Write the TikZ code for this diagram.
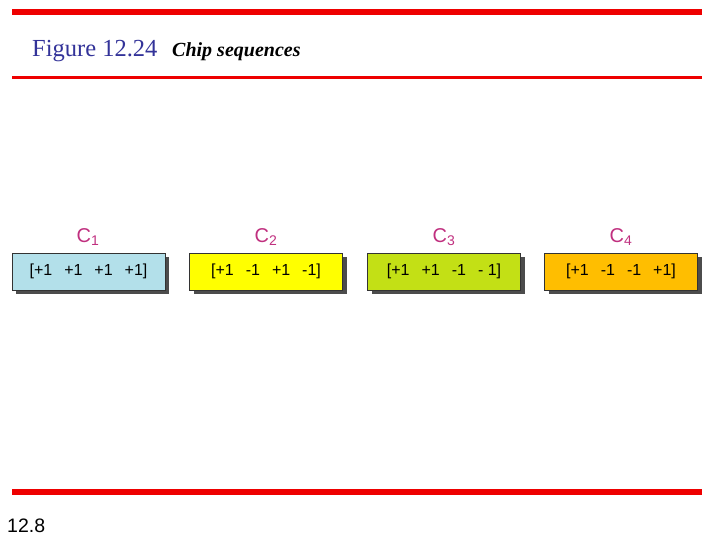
\documentclass[tikz,border=0pt]{standalone}
\usepackage{fontspec}
\setmainfont{Liberation Serif}
\setsansfont{Liberation Sans}
\usetikzlibrary{shadows}
\definecolor{titleblue}{HTML}{333399}
\definecolor{barred}{HTML}{EE0000}
\definecolor{lblmag}{HTML}{C0307F}
\definecolor{cblue}{HTML}{B3E0EA}
\definecolor{cyellow}{HTML}{FFFF00}
\definecolor{clime}{HTML}{C3E015}
\definecolor{corange}{HTML}{FFBE00}
\tikzset{
  bar/.style={barred, line width=#1},
  chipbox/.style={draw=black!80, line width=0.8pt, minimum width=153pt, minimum height=37pt,
    inner sep=0pt, font=\sffamily\fontsize{16}{18}\selectfont,
    drop shadow={shadow xshift=4pt, shadow yshift=-4pt, fill=black!70, opacity=1}},
  chiplabel/.style={text=lblmag, font=\sffamily\fontsize{20}{22}\selectfont, inner sep=0pt}
}
\newcommand{\gp}{\hspace{12pt}}
\begin{document}
\begin{tikzpicture}[x=1pt,y=-1pt]
\useasboundingbox (0,0) rectangle (720,540);
\draw[bar=6pt] (12,12.5) -- (702,12.5);
\draw[bar=3pt] (12,77.5) -- (702,77.5);
\draw[bar=6pt] (12,492) -- (702,492);
\node[anchor=base west, inner sep=0pt, text=titleblue, font=\fontsize{24.5}{26}\selectfont] (fig) at (32,57) {Figure 12.24};
\node[anchor=base west, inner sep=0pt, font=\fontsize{20}{22}\selectfont\bfseries\itshape] (cap) at (172,57) {Chip sequences};
\node[chipbox, fill=cblue] (b1) at (88.5,271.5) {[+1\gp+1\gp+1\gp+1]};
\node[chipbox, fill=cyellow] (b2) at (266,271.5) {[+1\gp-1\gp+1\gp-1]};
\node[chipbox, fill=clime] (b3) at (444,271.5) {[+1\gp+1\gp-1\gp- 1]};
\node[chipbox, fill=corange] (b4) at (621,271.5) {[+1\gp-1\gp-1\gp+1]};
\node[chiplabel] (l1) at (88,237) {C$_{\mathsf{1}}$};
\node[chiplabel] (l2) at (266,237) {C$_{\mathsf{2}}$};
\node[chiplabel] (l3) at (444,237) {C$_{\mathsf{3}}$};
\node[chiplabel] (l4) at (621,237) {C$_{\mathsf{4}}$};
\node[anchor=base west, inner sep=0pt, font=\sffamily\fontsize{19.5}{21}\selectfont] (pg) at (7,532) {12.8};
\end{tikzpicture}
\end{document}
